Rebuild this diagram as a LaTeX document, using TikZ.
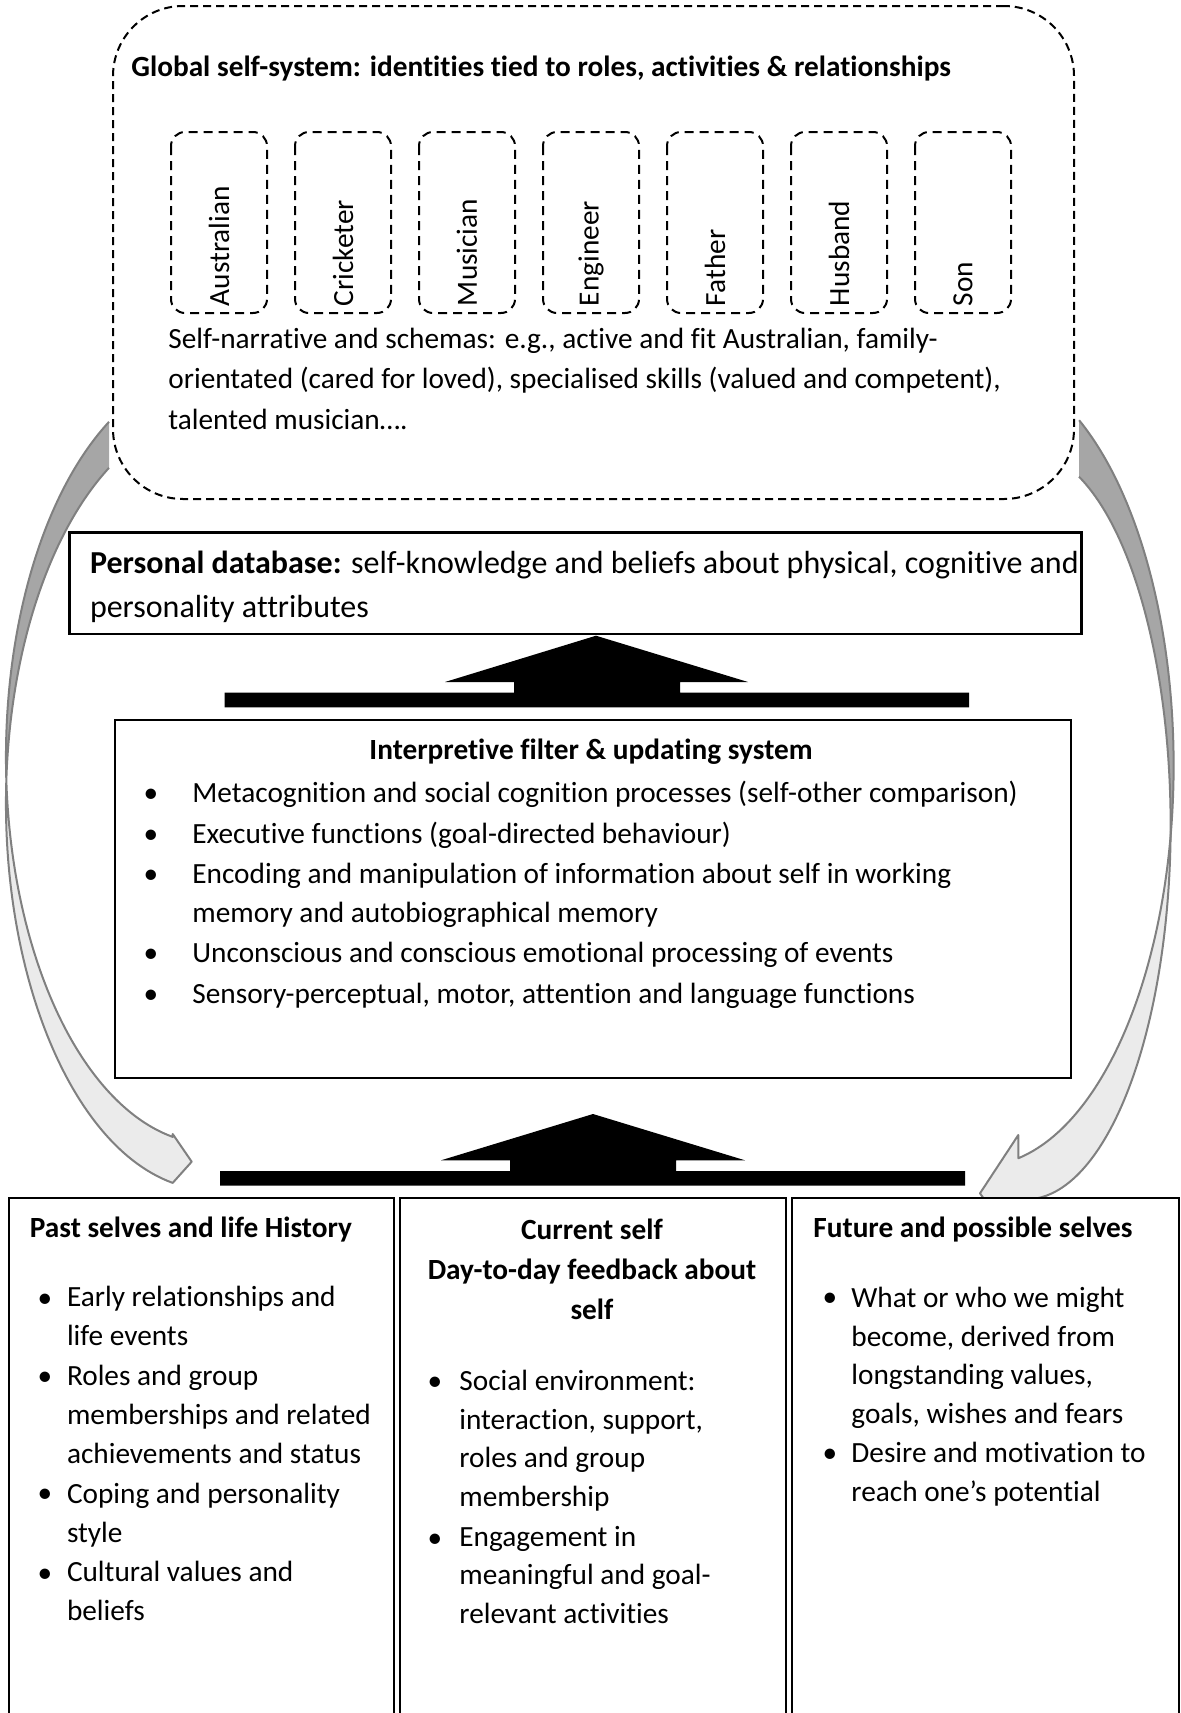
\documentclass[tikz,border=0pt]{standalone}
\usepackage{fontspec}
\setmainfont{Carlito}[Ligatures=NoCommon]
\usetikzlibrary{calc,positioning}

\begin{document}
\begin{tikzpicture}
    [x=0.5pt, y=-0.5pt,
    every node/.style={inner sep=0pt, font=\fontsize{14.65}{19.5}\selectfont},
    hd/.style={font=\fontsize{14.65}{20}\selectfont\bfseries},
    lst/.style={align=left, font=\fontsize{14.65}{19.3}\selectfont},
    globalbox/.style={draw, fill=white, line width=1pt, dash pattern=on 4pt off 2.5pt, rounded corners=35pt},
    rolebox/.style={draw, line width=1pt, dash pattern=on 4.5pt off 3pt, rounded corners=7pt, rotate=90,
        minimum height=48pt, text width=83.5pt, inner xsep=3.5pt, align=left},
    plainbox/.style={draw, fill=white, line width=1pt},
    thickbox/.style={draw, fill=white, line width=1.4pt},
    blockarrow/.style={fill=black},
    backfill/.style={fill=black!35},
    frontfill/.style={fill=black!8},
    arrowline/.style={draw=black!50, line width=1pt, line join=round}]
        \useasboundingbox (0,0) rectangle (1181,1713);
        \clip (0,0) rectangle (1181,1713);

        %% curved arrow, left
        \coordinate (lA) at (212,757);
        \coordinate (lB) at (212,803);
        \coordinate (ltip) at (191.7,1161.7);
        \fill[backfill] ($(lA)+(240:206 and 387)$) arc[start angle=240, end angle=176.6, x radius=206, y radius=387]
            -- ($(lB)+(183.4:206 and 387)$) arc[start angle=183.4, end angle=240, x radius=206, y radius=387] -- cycle;
        \fill[frontfill] ($(lB)+(183.4:206 and 387)$) arc[start angle=183.4, end angle=101, x radius=206, y radius=387]
            -- (ltip) -- (172.7,1134) -- ($(lA)+(101:206 and 387)$)
            arc[start angle=101, end angle=176.6, x radius=206, y radius=387] -- cycle;
        \draw[arrowline] ($(lA)+(240:206 and 387)$) arc[start angle=240, end angle=101, x radius=206, y radius=387]
            -- (172.7,1134) -- (ltip) -- ($(lB)+(101:206 and 387)$)
            arc[start angle=101, end angle=240, x radius=206, y radius=387];

        %% curved arrow, right
        \coordinate (rA) at (980.6,765);
        \coordinate (rB) at (1026,825);
        \coordinate (rtip) at (980,1193.3);
        \fill[backfill] ($(rA)+(-59.3:193 and 401)$) arc[start angle=-59.3, end angle=10.2, x radius=193, y radius=401]
            -- ($(rB)+(1.68:144.6 and 374.4)$) arc[start angle=1.68, end angle=-68.5, x radius=144.6, y radius=374.4] -- cycle;
        \fill[frontfill] ($(rB)+(1.68:144.6 and 374.4)$) arc[start angle=1.68, end angle=86, x radius=144.6, y radius=374.4]
            -- (1000,1222) -- (rtip) -- (1018.3,1135) -- ($(rA)+(78.7:193 and 401)$)
            arc[start angle=78.7, end angle=10.2, x radius=193, y radius=401] -- cycle;
        \draw[arrowline] ($(rA)+(-59.3:193 and 401)$) arc[start angle=-59.3, end angle=78.7, x radius=193, y radius=401]
            -- (1018.3,1135) -- (rtip) -- (1000,1222);
        \draw[arrowline] ($(rB)+(-68.5:144.6 and 374.4)$) arc[start angle=-68.5, end angle=86, x radius=144.6, y radius=374.4];

        %% global self-system
        \node[globalbox, anchor=north west, minimum width=480.5pt, minimum height=246.5pt] (global) at (112,5) {};
        \node[hd, anchor=base west] (gtitle) at (131,76) {Global self-system: identities tied to roles, activities \& relationships};
        \node[rolebox] (australian) at (219,222.5) {Australian};
        \node[rolebox] (cricketer) at (343,222.5) {Cricketer};
        \node[rolebox] (musician) at (467,222.5) {Musician};
        \node[rolebox] (engineer) at (591,222.5) {Engineer};
        \node[rolebox] (father) at (715,222.5) {Father};
        \node[rolebox] (husband) at (839,222.5) {Husband};
        \node[rolebox] (son) at (963,222.5) {Son};
        % multi-line nodes: base = last line
        \node[anchor=base west, align=left, font=\fontsize{14.65}{20.25}\selectfont] (narrative) at (168,429)
            {Self-narrative and schemas: e.g., active and fit Australian, family-\\orientated (cared for loved), specialised skills (valued and competent),\\talented musician….};

        %% personal database
        \node[thickbox, anchor=north west, minimum width=506pt, minimum height=50.75pt] (pdb) at (68,531) {};
        \node[anchor=base west, align=left, font=\fontsize{16}{21.85}\selectfont] (pdbtext) at (89.6,617)
            {\textbf{Personal database:} self-knowledge and beliefs about physical, cognitive and\\personality attributes};

        \fill[blockarrow] (224.7,692.7) -- (514,692.7) -- (514,682) -- (445,682) -- (596,635.7) -- (748,682)
            -- (680,682) -- (680,692.7) -- (969,692.7) -- (969,707.3) -- (224.7,707.3) -- cycle;

        %% interpretive filter
        \node[plainbox, anchor=north west, minimum width=478pt, minimum height=179pt] (filter) at (113.6,719) {};
        \node[hd, anchor=base] (ftitle) at (591,759.5) {Interpretive filter \& updating system};
        \node[anchor=base] (fb1) at (151,802.5) {\textbullet};
        \node[anchor=base west] (fi1) at (192,802.5) {Metacognition and social cognition processes (self-other comparison)};
        \node[anchor=base] (fb2) at (151,843) {\textbullet};
        \node[anchor=base west] (fi2) at (192,843) {Executive functions (goal-directed behaviour)};
        \node[anchor=base] (fb3) at (151,883.5) {\textbullet};
        \node[anchor=base west, align=left] (fi3) at (192,922.5) {Encoding and manipulation of information about self in working\\memory and autobiographical memory};
        \node[anchor=base] (fb4) at (151,962) {\textbullet};
        \node[anchor=base west] (fi4) at (192,962) {Unconscious and conscious emotional processing of events};
        \node[anchor=base] (fb5) at (151,1003.5) {\textbullet};
        \node[anchor=base west] (fi5) at (192,1003.5) {Sensory-perceptual, motor, attention and language functions};

        \fill[blockarrow] (220,1171) -- (510,1171) -- (510,1160.3) -- (441,1160.3) -- (593,1114) -- (745,1160.3)
            -- (676,1160.3) -- (676,1171) -- (965,1171) -- (965,1185.7) -- (220,1185.7) -- cycle;

        %% past selves
        \node[plainbox, anchor=north west, minimum width=192.5pt, minimum height=270pt] (past) at (8,1197) {};
        \node[hd, anchor=base west] (pasthead) at (29.5,1237.5) {Past selves and life History};
        \node[anchor=base] (pb1) at (45,1307) {\textbullet};
        \node[lst, anchor=base west] (pi1) at (66.6,1345) {Early relationships and\\life events};
        \node[anchor=base] (pb2) at (45,1385.5) {\textbullet};
        \node[lst, anchor=base west] (pi2) at (66.6,1463) {Roles and group\\memberships and related\\achievements and status};
        \node[anchor=base] (pb3) at (45,1502) {\textbullet};
        \node[lst, anchor=base west] (pi3) at (66.6,1542) {Coping and personality\\style};
        \node[anchor=base] (pb4) at (45,1582) {\textbullet};
        \node[lst, anchor=base west] (pi4) at (66.6,1620) {Cultural values and\\beliefs};

        %% current self
        \node[plainbox, anchor=north west, minimum width=192.8pt, minimum height=270pt] (current) at (399,1197) {};
        \node[hd, anchor=base, align=center] (currhead) at (592,1319) {Current self\\Day-to-day feedback about\\self};
        \node[anchor=base] (cb1) at (435,1390.5) {\textbullet};
        \node[lst, anchor=base west] (ci1) at (459,1506.5) {Social environment:\\interaction, support,\\roles and group\\membership};
        \node[anchor=base] (cb2) at (435,1547) {\textbullet};
        \node[lst, anchor=base west] (ci2) at (459,1623.5) {Engagement in\\meaningful and goal-\\relevant activities};

        %% future selves
        \node[plainbox, anchor=north west, minimum width=193.65pt, minimum height=270pt] (future) at (790.7,1197) {};
        \node[hd, anchor=base west] (futhead) at (813,1237.5) {Future and possible selves};
        \node[anchor=base] (ub1) at (830,1306) {\textbullet};
        \node[lst, anchor=base west] (ui1) at (851,1423.5) {What or who we might\\become, derived from\\longstanding values,\\goals, wishes and fears};
        \node[anchor=base] (ub2) at (830,1462.5) {\textbullet};
        \node[lst, anchor=base west] (ui2) at (851,1501.5) {Desire and motivation to\\reach one’s potential};
    \end{tikzpicture}
\end{document}
